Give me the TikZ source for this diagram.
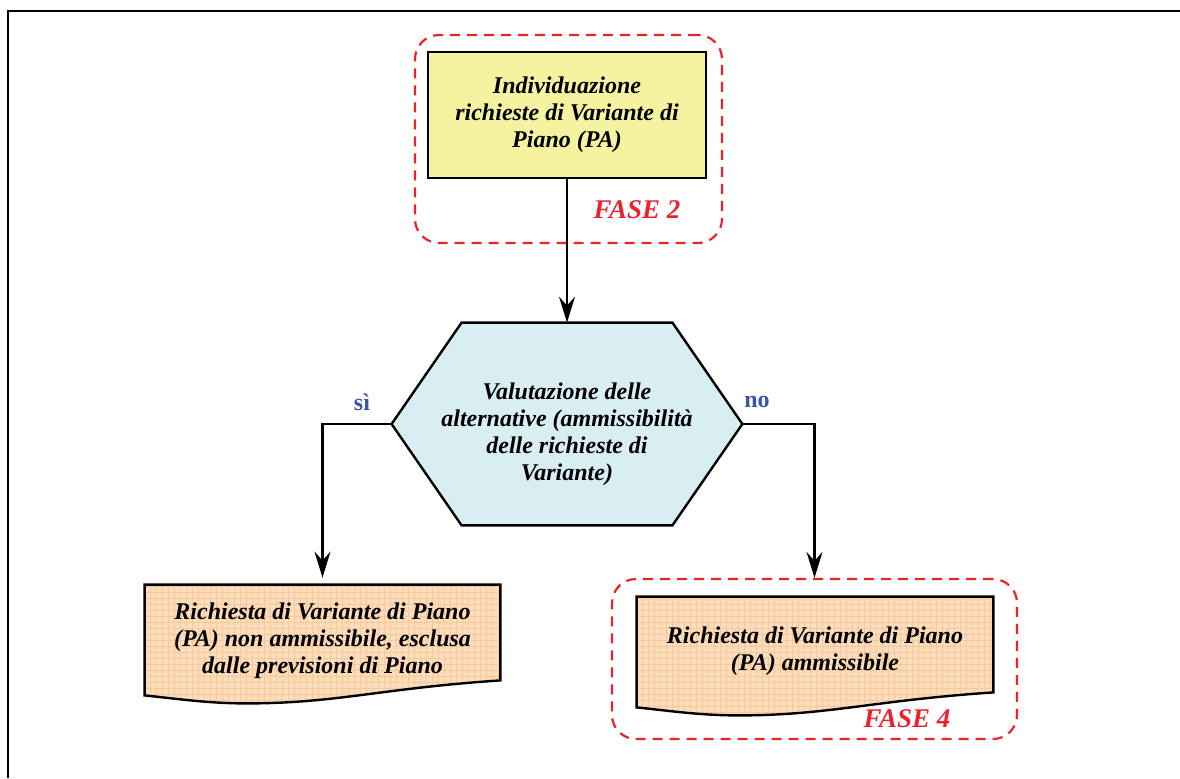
\documentclass[tikz,border=0pt]{standalone}
\usepackage{fontspec}
\setmainfont{Liberation Serif}
\usetikzlibrary{arrows.meta,backgrounds,patterns}
\definecolor{yellowbox}{HTML}{F6F3A0}
\definecolor{hexfill}{HTML}{D8EEF3}
\definecolor{docfill}{HTML}{FCDDBD}
\definecolor{docgrid}{HTML}{F8C898}
\definecolor{fasered}{HTML}{E8232D}
\definecolor{labelblue}{HTML}{3D55A5}
% document shape with wavy bottom, drawn round a named node
\newcommand{\docshape}[1]{%
  \path[docbox] (#1.north west) -- (#1.north east) -- (#1.south east)
    .. controls +(-60pt,-4pt) and +(45pt,0pt) .. ([xshift=51pt,yshift=-11.5pt]#1.south west)
    .. controls +(-20pt,0pt) and +(15pt,-1.5pt) .. ([yshift=-7.5pt]#1.south west) -- cycle;}
\begin{document}
\begin{tikzpicture}[x=0.5pt, y=-0.5pt,
        every node/.style = {align=center, inner sep=2pt,
        font=\bfseries\itshape\fontsize{12}{13.5}\selectfont},
        arr/.style = {line width=1.1pt, -{Stealth[length=13pt,width=8pt,inset=4.5pt]}},
        phase/.style = {draw=fasered, line width=1.1pt, dash pattern=on 5pt off 3.5pt,
        rounded corners=12pt, inner sep=0pt},
        fase/.style = {text=fasered, font=\bfseries\itshape\fontsize{13.5}{16}\selectfont},
        answer/.style = {text=labelblue, font=\bfseries\fontsize{12}{14}\selectfont},
        hexbox/.style = {draw, line width=1.2pt, fill=hexfill},
        docbox/.style = {draw, line width=1.2pt, preaction={fill=docfill},
        pattern=grid, pattern color=docgrid}]
    \useasboundingbox (0,0) rectangle (1180,778);
    \draw[line width=0.8pt] (1180,11) -- (8,11) -- (8,778);

    \node[phase, minimum width=153.5pt, minimum height=104pt] (f2) at (568.5,139) {};
    \node[phase, minimum width=202.5pt, minimum height=80pt] (f4) at (814.5,659) {};
    \node[fase] (fase2) at (637,210) {FASE 2};
    \node[fase] (fase4) at (907,719) {FASE 4};

    \node[draw, line width=1.2pt, fill=yellowbox, minimum width=139pt, minimum height=63pt]
        (ind) at (567,115) {Individuazione\\richieste di Variante di\\Piano (PA)};
    \node[minimum width=175pt, minimum height=101pt] (val) at (567,424) {};
    \node[minimum width=177.5pt, minimum height=47.5pt] (ko) at (322.5,632.5) {};
    \node[minimum width=178pt, minimum height=47.5pt] (ok) at (815,644.5) {};

    \begin{scope}[on background layer]
        \path[hexbox] (val.west) -- ([xshift=35pt]val.north west) -- ([xshift=-35pt]val.north east)
            -- (val.east) -- ([xshift=-35pt]val.south east) -- ([xshift=35pt]val.south west) -- cycle;
        \docshape{ko}
        \docshape{ok}
    \end{scope}

    \node (valtext) at ([yshift=-5pt]val.center)
        {Valutazione delle\\alternative (ammissibilità\\delle richieste di\\Variante)};
    \node (kotext) at ([yshift=-4pt]ko.center)
        {Richiesta di Variante di Piano\\(PA) non ammissibile, esclusa\\dalle previsioni di Piano};
    \node (oktext) at ([yshift=-3.5pt]ok.center)
        {Richiesta di Variante di Piano\\(PA) ammissibile};

    \node[answer] (si) at (362,402) {sì};
    \node[answer] (no) at (757,402) {no};

    \draw[arr] (ind.south) -- (val.north);
    \draw[arr, shorten >=3.5pt] (val.west) -| (ko.north);
    \draw[arr] (val.east) -| (f4.north);
\end{tikzpicture}
\end{document}
